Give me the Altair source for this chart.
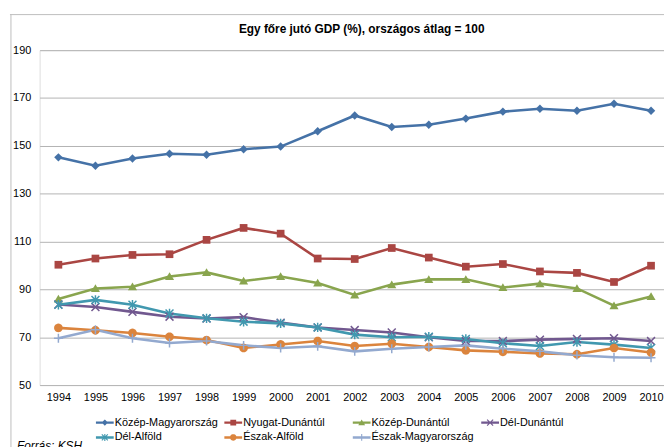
import math
import altair as alt
import pandas as pd

# ---------------- data ----------------
years = list(range(1994, 2011))
series_names = ["Közép-Magyarország", "Nyugat-Dunántúl", "Közép-Dunántúl", "Dél-Dunántúl",
                "Dél-Alföld", "Észak-Alföld", "Észak-Magyarország"]

kozep_magyarorszag = [145.2, 141.7, 144.7, 146.7, 146.3, 148.6, 149.7, 156.1, 162.7, 157.9,
                      158.8, 161.4, 164.3, 165.5, 164.7, 167.6, 164.7]
nyugat_dunantul = [100.3, 102.9, 104.4, 104.7, 110.7, 115.7, 113.3, 102.9, 102.7, 107.3,
                   103.3, 99.5, 100.6, 97.5, 96.9, 93.1, 99.9]
kozep_dunantul = [86.0, 90.4, 91.1, 95.4, 97.1, 93.5, 95.4, 92.7, 87.7, 92.0,
                  94.2, 94.2, 90.8, 92.4, 90.4, 83.2, 87.0]
del_dunantul = [83.7, 82.6, 80.6, 78.6, 77.8, 78.4, 76.1, 74.1, 73.0, 72.0,
                70.0, 68.4, 68.4, 69.0, 69.3, 69.6, 68.4]
del_alfold = [83.6, 85.6, 83.6, 79.9, 77.9, 76.5, 75.8, 74.1, 71.1, 70.0,
              70.2, 69.3, 67.5, 66.3, 68.0, 66.9, 65.5]
eszak_alfold = [73.9, 72.9, 71.8, 70.2, 68.8, 65.5, 67.0, 68.4, 66.3, 67.3,
                65.9, 64.5, 63.9, 63.2, 62.9, 65.5, 63.6]
eszak_magyarorszag = [69.6, 73.1, 69.6, 67.6, 68.4, 66.6, 65.5, 66.2, 64.1, 65.2,
                      65.9, 66.6, 65.2, 64.1, 62.5, 61.6, 61.4]

series_values = [kozep_magyarorszag, nyugat_dunantul, kozep_dunantul, del_dunantul,
                 del_alfold, eszak_alfold, eszak_magyarorszag]

y_ticks = [50, 70, 90, 110, 130, 150, 170, 190]
title_text = ["Egy főre jutó GDP (%), országos átlag = 100"]
source_text = ["Forrás: KSH"]

colors = ["#4572A7", "#AA4643", "#89A54E", "#71588F", "#4198AF", "#DB843D", "#93A9CF"]

rows = []
for name, vals in zip(series_names, series_values):
    for yr, v in zip(years, vals):
        rows.append({"year": yr, "value": v, "series": name})
df = pd.DataFrame(rows)

# ---------------- marker shapes (unit [-1,1] paths) ----------------
def poly(pts, k=1.0):
    return "M" + "L".join(f"{x*k:.3f},{y*k:.3f}" for x, y in pts) + "Z"

def shapes(k=1.0):
    a, w = 0.8, 0.15
    d = w / math.sqrt(2)
    diamond = [(0, -0.85), (0.85, 0), (0, 0.85), (-0.85, 0)]
    square = [(-0.78, -0.78), (0.78, -0.78), (0.78, 0.78), (-0.78, 0.78)]
    tri = [(0, -0.85), (0.92, 0.72), (-0.92, 0.72)]
    circ = [(0.88 * math.cos(2 * math.pi * i / 24), 0.88 * math.sin(2 * math.pi * i / 24)) for i in range(24)]
    r1 = [(-a + d, -a - d), (a + d, a - d), (a - d, a + d), (-a - d, -a + d)]
    r2 = [(-a + d, a + d), (-a - d, a - d), (a - d, -a - d), (a + d, -a + d)]
    vb = [(-w, -0.95), (w, -0.95), (w, 0.95), (-w, 0.95)]
    hb = [(-0.9, -w), (0.9, -w), (0.9, w), (-0.9, w)]
    vb2 = [(-w, -0.9), (w, -0.9), (w, 0.9), (-w, 0.9)]
    return [
        poly(diamond, k),
        poly(square, k),
        poly(tri, k),
        poly(r1, k) + poly(r2, k),
        poly(r1, k) + poly(r2, k) + poly(vb, k),
        poly(circ, k),
        poly(vb2, k) + poly(hb, k),
    ]

marker_paths = shapes(1.0)
bar = poly([(-1, -0.14), (1, -0.14), (1, 0.14), (-1, 0.14)])
legend_paths_all = [bar + p for p in shapes(0.42)]

# legend entries are laid out column by column (2 rows): reorder so rows read like the reference
legend_order = [0, 4, 1, 5, 2, 6, 3]
legend_domain = [series_names[i] for i in legend_order]
legend_colors = [colors[i] for i in legend_order]
legend_paths = [legend_paths_all[i] for i in legend_order]

FONT = "Liberation Sans"

x_enc = alt.X("year:Q",
              scale=alt.Scale(domain=[1993.493, 2010.35], nice=False, zero=False),
              axis=alt.Axis(values=years, format="d", title=None, grid=False, domain=False,
                            ticks=False, labelPadding=7, labelFontSize=11, labelColor="#000000",
                            labelFlush=False, labelOverlap=False, labelFont=FONT))
y_enc = alt.Y("value:Q",
              scale=alt.Scale(domain=[50, 190], nice=False, zero=False),
              axis=alt.Axis(values=y_ticks, title=None, domain=False, ticks=False,
                            labelPadding=9, labelFontSize=11, labelColor="#000000",
                            gridColor="#b3b3b3", gridWidth=1, labelFont=FONT))

color_scale = alt.Scale(domain=series_names, range=colors)

base = alt.Chart(df)

lines = base.mark_line(strokeWidth=2.6).encode(
    x=x_enc, y=y_enc,
    color=alt.Color("series:N", scale=color_scale, legend=None),
    order=alt.Order("year:Q"),
)

points = base.mark_point(filled=True, size=100, opacity=1, strokeWidth=0).encode(
    x=x_enc, y=y_enc,
    color=alt.Color("series:N", scale=color_scale, legend=None),
    shape=alt.Shape("series:N", scale=alt.Scale(domain=series_names, range=marker_paths), legend=None),
)

leg = alt.Legend(title=None, orient="none", legendX=57, legendY=368,
                 columns=4, columnPadding=6, rowPadding=1, gridAlign="all",
                 symbolSize=324, symbolOpacity=1, symbolStrokeWidth=0,
                 labelFontSize=11, labelFont=FONT, labelColor="#000000",
                 labelOffset=1, labelLimit=300)

legend_layer = base.mark_point(filled=True, opacity=0).encode(
    x=x_enc, y=y_enc,
    color=alt.Color("series:N", scale=alt.Scale(domain=legend_domain, range=legend_colors), legend=leg),
    shape=alt.Shape("series:N", scale=alt.Scale(domain=legend_domain, range=legend_paths), legend=leg),
)

one = pd.DataFrame({"k": [0]})
frame_top = alt.Chart(one).mark_rule(color="#bdbdbd", strokeWidth=1).encode(
    x=alt.value(-30), x2=alt.value(640), y=alt.value(-36))
frame_left = alt.Chart(one).mark_rule(color="#bdbdbd", strokeWidth=1).encode(
    x=alt.value(-29), y=alt.value(-36), y2=alt.value(410))

title = alt.Chart(pd.DataFrame({"t": title_text})).mark_text(
    font=FONT, fontWeight="bold", fontSize=12, align="center", baseline="alphabetic", color="#000000"
).encode(text="t:N", x=alt.value(326), y=alt.value(-17))

source = alt.Chart(pd.DataFrame({"t": source_text})).mark_text(
    font=FONT, fontStyle="italic", fontSize=12, align="left", baseline="alphabetic", color="#000000"
).encode(text="t:N", x=alt.value(-23), y=alt.value(405))

chart = alt.layer(frame_top, frame_left, lines, points, legend_layer, title, source).resolve_scale(
    color="independent", shape="independent"
).properties(
    width=632, height=339,
    padding={"left": 32, "top": 40, "right": 0, "bottom": 60},
    autosize="none",
).configure_view(stroke=None).configure(font=FONT).configure_legend(
    labelFontSize=11, symbolSize=324, labelFont=FONT
)

chart.save("out.html", embed_options={"renderer": "svg", "actions": False})
